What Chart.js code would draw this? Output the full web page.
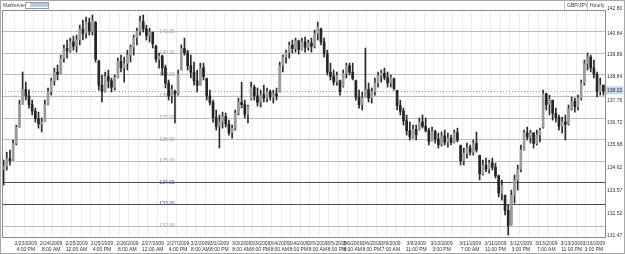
<!DOCTYPE html>
<html>
<head>
<meta charset="utf-8">
<script src="https://cdn.jsdelivr.net/npm/chart.js@4/dist/chart.umd.min.js"></script>
<style>
  html, body { margin: 0; padding: 0; background: #fff; }
  canvas { display: block; }
</style>
</head>
<body>
<canvas id="fx" width="625" height="254"></canvas>
<script>
// GBP/JPY bars, one entry per bar
const opens = [
  134.60, 134.75, 135.10, 135.00, 135.80, 136.55, 137.60, 138.30, 138.00, 137.60,
  137.30, 136.95, 136.70, 136.80, 137.60, 138.20, 138.70, 139.10, 139.00, 139.75,
  140.20, 140.10, 140.50, 140.30, 140.60, 141.10, 140.90, 141.40, 141.00, 141.40,
  139.60, 138.50, 138.20, 138.90, 138.70, 138.40, 138.85, 139.60, 139.30, 139.50,
  139.90, 140.25, 140.70, 141.00, 141.45, 141.10, 140.80, 140.95, 140.30, 139.70,
  139.85, 139.30, 138.60, 138.00, 138.20, 138.10, 139.20, 140.20, 140.00, 139.40,
  139.10, 138.70, 138.50, 139.30, 138.80, 138.00, 137.70, 137.00, 136.60, 136.80,
  137.05, 136.70, 136.30, 136.50, 137.20, 137.70, 137.60, 137.15, 137.85, 138.40,
  138.00, 137.70, 138.05, 137.90, 138.20, 137.95, 138.10, 138.20, 139.40, 139.80,
  140.00, 140.35, 140.20, 140.55, 140.15, 140.50, 140.25, 140.45, 140.30, 140.90,
  141.10, 140.50, 139.95, 139.10, 138.90, 138.65, 138.70, 138.45, 139.05, 139.40,
  139.10, 138.70, 137.95, 137.60, 137.95, 138.30, 137.90, 138.20, 138.60, 138.95,
  139.05, 138.85, 138.60, 138.80, 138.25, 137.55, 137.30, 136.85, 136.40, 136.10,
  136.45, 136.45, 136.80, 136.60, 136.40, 135.90, 136.35, 136.00, 135.75, 136.15,
  135.85, 136.05, 135.85, 136.30, 135.70, 135.00, 135.35, 135.60, 135.40, 135.80,
  135.25, 134.40, 134.80, 134.60, 134.90, 134.70, 134.30, 133.50, 133.40, 132.70,
  132.05, 133.40, 134.10, 134.60, 135.50, 136.30, 136.10, 136.30, 135.80, 136.20,
  136.55, 138.10, 137.60, 137.80, 137.20, 137.00, 136.60, 136.80, 136.70, 137.40,
  137.75, 137.50, 137.90, 138.60, 139.50, 139.80, 139.30, 139.00, 138.20, 138.50
];
const highs = [
  135.03, 135.40, 135.49, 135.96, 136.65, 137.81, 139.11, 138.64, 138.27, 137.81,
  137.44, 137.25, 136.98, 137.81, 138.37, 138.83, 139.29, 139.43, 139.89, 140.36,
  140.59, 140.68, 140.77, 140.82, 141.28, 141.51, 141.65, 141.61, 141.75, 141.45,
  139.66, 138.97, 139.11, 139.20, 138.83, 138.97, 139.75, 139.89, 139.80, 140.12,
  140.36, 140.82, 141.14, 141.70, 141.75, 141.28, 141.14, 140.96, 140.36, 139.99,
  139.89, 139.43, 138.74, 138.50, 138.27, 139.20, 140.36, 140.68, 140.12, 139.89,
  139.57, 139.20, 139.52, 139.52, 138.83, 138.27, 137.81, 137.35, 137.12, 137.25,
  137.21, 136.88, 136.65, 137.35, 137.90, 138.64, 137.81, 137.58, 138.64, 138.50,
  138.37, 138.27, 138.50, 138.37, 138.27, 138.27, 138.37, 139.57, 139.89, 140.12,
  140.50, 140.59, 140.68, 140.59, 140.68, 140.73, 140.59, 140.68, 141.05, 141.42,
  141.14, 140.68, 140.12, 139.52, 139.20, 139.11, 138.74, 139.20, 139.52, 139.52,
  139.52, 138.74, 138.27, 138.18, 140.22, 138.60, 138.37, 138.83, 139.11, 139.20,
  139.29, 139.11, 138.97, 138.83, 138.27, 137.81, 137.44, 137.12, 136.79, 136.65,
  136.65, 136.98, 137.12, 136.98, 136.51, 136.56, 136.42, 136.28, 136.33, 136.42,
  136.28, 136.19, 136.42, 136.51, 135.73, 135.59, 135.82, 135.73, 135.96, 136.33,
  135.26, 135.03, 135.12, 135.03, 135.12, 134.89, 134.34, 134.11, 133.41, 132.95,
  133.64, 134.34, 134.80, 135.73, 136.42, 136.56, 136.42, 136.28, 136.42, 136.51,
  138.27, 138.13, 138.04, 137.81, 137.44, 137.12, 137.02, 137.12, 137.58, 137.95,
  137.90, 138.04, 138.74, 139.66, 139.99, 139.89, 139.66, 139.11, 138.83, 138.50
];
const lows = [
  133.87, 134.57, 134.80, 135.12, 135.73, 136.56, 137.81, 137.81, 137.44, 137.12,
  136.79, 136.51, 136.33, 136.98, 137.58, 138.04, 138.50, 138.74, 139.11, 139.57,
  139.75, 140.03, 140.12, 140.03, 140.36, 140.59, 140.68, 140.82, 140.82, 139.57,
  138.27, 137.72, 138.18, 138.37, 138.18, 138.27, 138.83, 139.11, 138.64, 139.20,
  139.57, 139.89, 140.36, 140.82, 140.96, 140.59, 140.50, 140.22, 139.57, 139.29,
  138.97, 138.37, 137.81, 137.67, 136.75, 138.04, 139.20, 139.89, 139.20, 138.83,
  138.50, 138.18, 138.50, 138.74, 137.81, 137.58, 136.79, 136.42, 135.59, 136.51,
  136.56, 136.19, 136.05, 136.42, 137.12, 137.44, 136.98, 136.75, 137.81, 137.81,
  137.53, 137.49, 137.72, 137.72, 137.81, 137.67, 137.81, 138.18, 139.11, 139.52,
  139.75, 139.99, 140.03, 139.94, 140.12, 140.03, 140.12, 140.03, 140.22, 140.59,
  140.36, 139.80, 138.97, 138.74, 138.50, 138.50, 138.04, 138.41, 138.83, 138.97,
  138.74, 137.81, 137.44, 137.35, 137.95, 137.72, 137.67, 138.04, 138.41, 138.64,
  138.74, 138.41, 138.41, 138.27, 137.35, 137.12, 136.65, 136.19, 135.96, 136.05,
  135.96, 136.42, 136.51, 136.33, 135.73, 135.96, 135.82, 135.59, 135.68, 135.73,
  135.63, 135.73, 135.82, 135.87, 134.80, 134.80, 135.12, 135.26, 135.26, 135.40,
  134.11, 134.34, 134.48, 134.43, 134.57, 134.20, 133.32, 133.18, 132.49, 131.56,
  132.02, 133.04, 133.64, 134.48, 135.49, 135.96, 135.82, 135.59, 135.73, 135.87,
  136.51, 137.35, 137.12, 136.88, 136.79, 136.42, 136.28, 135.96, 136.65, 137.35,
  137.25, 137.35, 137.81, 138.50, 139.20, 139.11, 138.83, 137.95, 138.04, 138.04
];
const closes = [
  134.75, 135.10, 135.00, 135.80, 136.55, 137.60, 138.30, 138.00, 137.60, 137.30,
  136.95, 136.70, 136.80, 137.60, 138.20, 138.70, 139.10, 139.00, 139.75, 140.20,
  140.10, 140.50, 140.30, 140.60, 141.10, 140.90, 141.40, 141.00, 141.50, 139.70,
  138.50, 138.20, 138.90, 138.70, 138.40, 138.85, 139.60, 139.30, 139.50, 139.90,
  140.25, 140.70, 141.00, 141.45, 141.10, 140.80, 140.95, 140.40, 139.70, 139.85,
  139.30, 138.60, 138.00, 138.30, 138.10, 139.00, 140.20, 140.00, 139.40, 139.10,
  138.70, 138.50, 139.30, 138.90, 138.00, 137.70, 137.00, 136.60, 136.80, 137.05,
  136.70, 136.30, 136.50, 137.20, 137.70, 137.60, 137.15, 137.50, 138.40, 138.00,
  137.70, 138.05, 137.90, 138.20, 137.95, 138.10, 138.00, 139.40, 139.80, 140.00,
  140.35, 140.20, 140.55, 140.15, 140.50, 140.25, 140.45, 140.30, 140.90, 141.20,
  140.50, 139.95, 139.10, 138.90, 138.65, 138.95, 138.20, 139.05, 139.40, 139.10,
  138.80, 137.95, 137.60, 137.90, 138.30, 137.90, 138.20, 138.60, 138.95, 139.05,
  138.85, 138.60, 138.85, 138.35, 137.55, 137.30, 136.85, 136.40, 136.10, 136.45,
  136.20, 136.80, 136.60, 136.40, 135.90, 136.35, 136.00, 135.75, 136.15, 135.85,
  136.05, 135.85, 136.30, 135.95, 135.00, 135.35, 135.60, 135.40, 135.80, 135.50,
  134.40, 134.80, 134.60, 134.90, 134.70, 134.30, 133.50, 133.85, 132.70, 132.00,
  133.40, 134.10, 134.60, 135.50, 136.30, 136.10, 136.30, 135.80, 136.20, 136.40,
  138.10, 137.60, 137.85, 137.20, 137.00, 136.60, 136.80, 136.70, 137.40, 137.75,
  137.50, 137.90, 138.60, 139.50, 139.80, 139.30, 139.00, 138.20, 138.50, 138.22
];

// time labels under the bars (bar number, text)
const xTickBars = [7, 15, 23, 31, 39, 47, 55, 62, 68, 75, 81, 87, 93, 99, 105, 110, 116, 122, 130, 138, 147, 155, 163, 171, 179, 186];
const xTickLabels = [
  '2/23/2009|4:00 PM', '2/24/2009|8:00 AM', '2/25/2009|12:00 AM', '2/25/2009|4:00 PM',
  '2/26/2009|8:00 AM', '2/27/2009|12:00 AM', '2/27/2009|4:00 PM', '3/2/2009|8:00 AM',
  '3/2/2009|8:00 PM', '3/3/2009|8:00 AM', '3/3/2009|8:00 PM', '3/4/2009|8:00 AM',
  '3/4/2009|8:00 PM', '3/5/2009|8:00 AM', '3/5/2009|8:00 PM', '3/6/2009|8:00 AM',
  '3/6/2009|8:00 PM', '3/9/2009|7:00 AM', '3/9/2009|11:00 PM', '3/10/2009|3:00 PM',
  '3/11/2009|7:00 AM', '3/11/2009|11:00 PM', '3/12/2009|3:00 PM', '3/13/2009|7:00 AM',
  '3/13/2009|11:00 PM', '3/16/2009|3:00 PM'
];

// price axis
const axisPrices = [131.47, 132.52, 133.57, 134.62, 135.68, 136.72, 137.76, 138.84, 139.89, 140.84];
const priceMin = 131.47;
const priceMax = 141.98;
const axisTopLabel = '142.80';
const lastPrice = 138.22;

// drawn horizontal levels
const levels = [141, 140, 139, 138, 137, 136, 135, 134, 133, 132];
const blueLevels = [134, 133];

const barLabels = opens.map(() => '');
xTickBars.forEach((b, k) => { barLabels[b] = xTickLabels[k]; });

const FONT = '"Liberation Sans", Arial, sans-serif';

const overlay = {
  id: 'overlay',
  beforeDatasetsDraw(chart) {
    const { ctx, chartArea: a, scales: { y } } = chart;
    ctx.save();
    ctx.lineWidth = 1;
    levels.forEach(v => {
      const py = Math.round(y.getPixelForValue(v)) + 0.5;
      ctx.strokeStyle = blueLevels.includes(v) ? '#4a4a80' : '#bdbdbd';
      ctx.beginPath();
      ctx.moveTo(a.left, py);
      ctx.lineTo(a.right, py);
      ctx.stroke();
    });
    // last price, dotted
    const lp = Math.round(y.getPixelForValue(lastPrice)) + 0.5;
    ctx.strokeStyle = '#a0a0a0';
    ctx.setLineDash([1, 2]);
    ctx.beginPath();
    ctx.moveTo(a.left, lp);
    ctx.lineTo(a.right, lp);
    ctx.stroke();
    ctx.setLineDash([]);
    // level captions
    ctx.font = '5px ' + FONT;
    ctx.textAlign = 'center';
    ctx.textBaseline = 'middle';
    levels.forEach(v => {
      const py = y.getPixelForValue(v);
      ctx.fillStyle = blueLevels.includes(v) ? '#4a4a80' : '#9a9a9a';
      ctx.fillText(v.toFixed(2), a.left + 165, py);
    });
    ctx.restore();
  },
  afterDraw(chart) {
    const { ctx, chartArea: a, width, height } = chart;
    ctx.save();
    ctx.lineWidth = 1;
    ctx.strokeStyle = '#8c8c8c';
    ctx.strokeRect(a.left + 0.5, a.top + 0.5, a.right - a.left, a.bottom - a.top);
    ctx.strokeStyle = '#a8a8a8';
    ctx.strokeRect(0.5, 0.5, width - 1, height - 1);
    // header
    ctx.font = '5px ' + FONT;
    ctx.textBaseline = 'middle';
    ctx.textAlign = 'left';
    ctx.fillStyle = '#444';
    ctx.fillText('Marketview', 3, 5.5);
    ctx.fillStyle = '#fff';
    ctx.fillRect(25, 2, 23, 6);
    ctx.fillStyle = '#b9c9ea';
    ctx.fillRect(30, 3, 18, 4);
    ctx.strokeStyle = '#9a9a9a';
    ctx.strokeRect(25.5, 2.5, 23, 6);
    ctx.fillStyle = '#333';
    ctx.fillText('GBP/JPY', 567, 5.5);
    ctx.fillText('Hourly', 590, 5.5);
    ctx.strokeStyle = '#c8c8c8';
    [564.5, 587.5].forEach(x => {
      ctx.beginPath(); ctx.moveTo(x, 1); ctx.lineTo(x, a.top); ctx.stroke();
    });
    ctx.restore();
  }
};

new Chart(document.getElementById('fx'), {
  type: 'bar',
  data: {
    labels: barLabels,
    datasets: [
      {
        // high-low wicks
        data: lows.map((l, i) => [l, highs[i]]),
        backgroundColor: '#2b2b2b',
        barThickness: 1,
        grouped: false,
        order: 1
      },
      {
        // open-close bodies
        data: opens.map((o, i) => [o, closes[i]]),
        backgroundColor: ctx => closes[ctx.dataIndex] >= opens[ctx.dataIndex] ? '#9c9c9c' : '#262626',
        barThickness: 2,
        minBarLength: 1,
        grouped: false,
        order: 0
      }
    ]
  },
  options: {
    responsive: false,
    animation: false,
    devicePixelRatio: 1,
    layout: { padding: { top: 10, left: 2, right: 0, bottom: 0 } },
    plugins: { legend: { display: false }, tooltip: { enabled: false } },
    scales: {
      x: {
        type: 'category',
        offset: true,
        afterFit: s => { s.height = 17; },
        grid: {
          color: ctx => (ctx.index % 3 === 1 ? '#ececec' : 'rgba(0,0,0,0)'),
          tickColor: 'rgba(0,0,0,0)',
          tickLength: 2
        },
        border: { display: false },
        ticks: {
          autoSkip: false,
          maxRotation: 0,
          minRotation: 0,
          padding: 1,
          color: '#333',
          font: { size: 5, family: FONT, lineHeight: 1.3 },
          callback: (v, i) => (barLabels[i] ? barLabels[i].split('|') : '')
        }
      },
      y: {
        position: 'right',
        min: priceMin,
        max: priceMax,
        afterFit: s => { s.width = 20; },
        afterBuildTicks: s => {
          s.ticks = axisPrices.concat([lastPrice, priceMax]).map(v => ({ value: v }));
        },
        grid: { display: false, drawTicks: false, tickLength: 0 },
        border: { display: true, color: '#8c8c8c' },
        ticks: {
          padding: 2,
          labelOffset: -1,
          color: '#333',
          font: { size: 5, family: FONT },
          showLabelBackdrop: true,
          backdropPadding: { top: 1, bottom: 1, left: 1, right: 1 },
          backdropColor: ctx => (ctx.tick && ctx.tick.value === lastPrice ? '#c4d6f0' : 'rgba(0,0,0,0)'),
          callback: v => (v === priceMax ? axisTopLabel : v.toFixed(2))
        }
      }
    }
  },
  plugins: [overlay]
});
</script>
</body>
</html>
